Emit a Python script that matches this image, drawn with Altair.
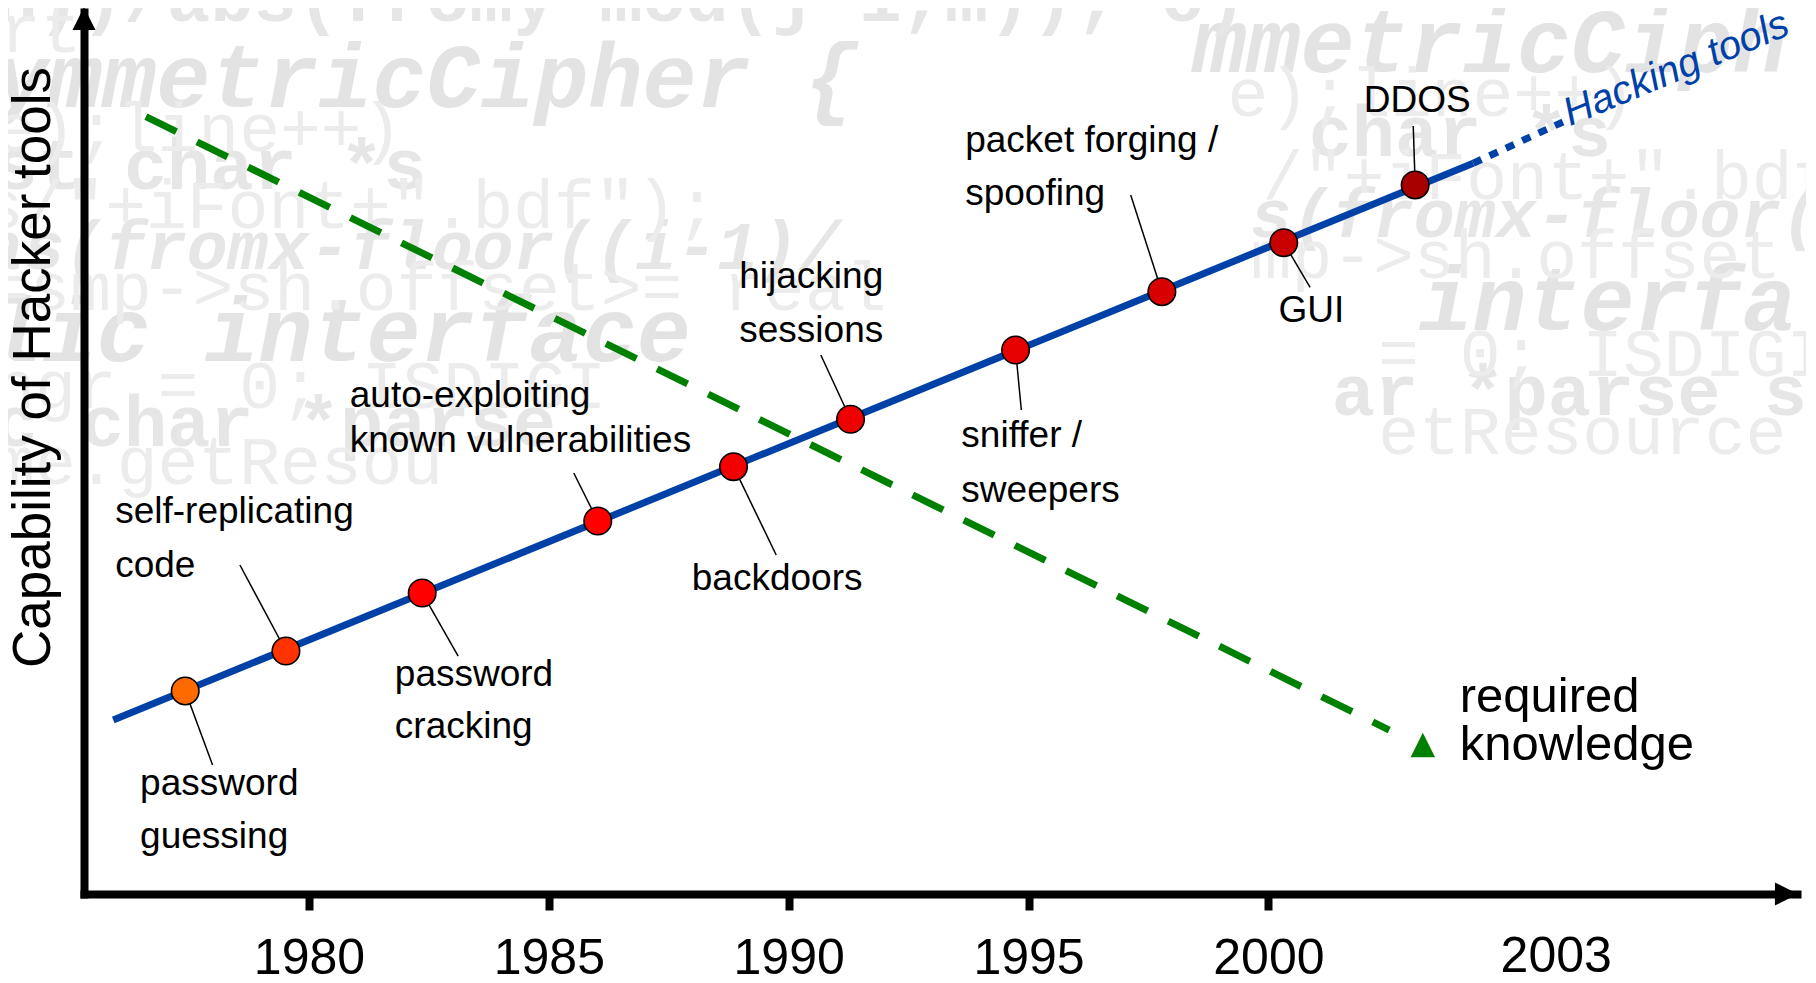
import altair as alt
import pandas as pd

FONT = "Liberation Sans, Arial, Helvetica, sans-serif"
MONO = "Liberation Mono, Courier New, monospace"

# ---------------- data ----------------
tick_years = [1980, 1985, 1990, 1995, 2000]
end_label = ["2003"]
end_label_year = [2006.0]
end_label_cap = [-8.8]

event_names = ["password guessing", "self-replicating code", "password cracking",
               "auto-exploiting known vulnerabilities", "backdoors", "hijacking sessions",
               "sniffer / sweepers", "packet forging / spoofing", "GUI", "DDOS"]
event_years = [1977.42, 1979.52, 1982.36, 1986.02, 1988.85, 1991.29, 1994.73, 1997.78, 2000.32, 2003.06]
event_caps = [23.02, 27.55, 34.13, 42.29, 48.45, 53.82, 61.68, 68.29, 73.84, 80.39]
leader_years = [1977.99, 1978.56, 1983.11, 1985.52, 1989.74, 1990.67, 1994.85, 1997.13, 2000.87, 2003.02]
leader_caps = [14.63, 37.30, 26.98, 47.73, 38.44, 61.11, 54.88, 79.25, 68.79, 87.07]

label_text = ["password", "guessing", "self-replicating", "code", "password", "cracking",
              "auto-exploiting", "known vulnerabilities", "backdoors", "hijacking", "sessions",
              "sniffer /", "sweepers", "packet forging /", "spoofing", "GUI", "DDOS"]
label_years = [1976.48, 1976.48, 1975.96, 1975.96, 1981.79, 1981.79, 1980.85, 1980.85, 1987.98,
               1988.97, 1988.97, 1993.60, 1993.60, 1993.68, 1993.68, 2000.21, 2001.99]
label_caps = [11.22, 5.22, 42.06, 35.94, 23.58, 17.69, 55.25, 50.14, 34.47,
              68.71, 62.62, 50.71, 44.47, 84.16, 78.12, 64.89, 88.70]

tools_years = [1975.92, 2004.27]
tools_caps = [19.73, 82.85]
tools_trend_years = [2004.27, 2006.14]
tools_trend_caps = [82.85, 87.53]
tools_label = ["Hacking tools"]
tools_label_year = [2008.60]
tools_label_cap = [92.29]

knowledge_years = [1976.60, 2002.52]
knowledge_caps = [88.13, 18.59]
knowledge_arrow_year = [2003.22]
knowledge_arrow_cap = [16.89]
knowledge_label = ["required", "knowledge"]
knowledge_label_years = [2003.99, 2003.99]
knowledge_label_caps = [20.67, 15.19]

axis_arrow_years = [1975.31, 2010.80]
axis_arrow_caps = [99.26, 0.0]

# faint source-code watermark in the background
wm_big_text = ["ymmetricCipher {", "mmetricCiph", "lic  interface", "interfa"]
wm_big_years = [1973.44, 1998.42, 1973.32, 2003.13]
wm_big_caps = [89.28, 93.22, 60.40, 63.94]
wm_ital_text = ["as(fromx-floor((i-1)/", "s(fromx-floor("]
wm_ital_years = [1973.20, 1999.63]
wm_ital_caps = [70.90, 74.45]
wm_bold_text = ["n))/abs(fromy  mod(j-1,m));  c)", "st char *s", "char *s", "c char *parse", "ar *parse s"]
wm_bold_years = [1973.44, 1973.44, 2000.84, 1973.44, 2001.32]
wm_bold_caps = [99.00, 79.96, 83.63, 50.81, 54.36]
wm_reg_text = ["rt", "ne);line++)", "e);line++)", "s/\"+iFont+\".bdf\");", "/\"+iFont+\".bdf",
               "=smp->sh.offset>= real", "mp->sh.offset >=", "ngr = 0;  ISDIGI", "= 0; ISDIGIT",
               "me.getResou", "etResource"]
wm_reg_years = [1973.56, 1972.59, 1999.15, 1973.20, 1999.87, 1973.32, 1999.63, 1973.44, 2002.29,
                1973.44, 2002.29]
wm_reg_caps = [95.45, 84.29, 88.23, 75.49, 78.78, 66.17, 69.85, 55.14, 58.69, 46.48, 49.89]

# ---------------- styles ----------------
dot_colors = ["#FF6A00", "#FF3300", "#FF0000", "#FF0000", "#F20000", "#EE0000",
              "#E60000", "#D80000", "#C80000", "#A80000"]
BLUE = "#0041A8"
GREEN = "#008000"

xs = alt.Scale(domain=[1975.31, 2011.02], nice=False, zero=False)
ys = alt.Scale(domain=[0, 100], nice=False, zero=False)
x_axis = alt.Axis(values=tick_years, format="d", title=None, grid=False, zindex=1,
                  domainColor="black", domainWidth=8, domainCap="square",
                  tickColor="black", tickWidth=8, tickSize=16,
                  labelFont=FONT, labelFontSize=50, labelColor="black",
                  labelBaseline="alphabetic", labelPadding=63,
                  labelFlush=False, labelOverlap=False)
y_axis = alt.Axis(title="Capability of Hacker tools", grid=False, ticks=False, labels=False,
                  zindex=1, domainColor="black", domainWidth=8, domainCap="square",
                  titleFont=FONT, titleFontSize=53, titleFontWeight="normal",
                  titleColor="black", titleAngle=270, titleAlign="center",
                  titleBaseline="alphabetic", titleX=-35, titleY=355)


def X(f="year"):
    return alt.X(f"{f}:Q", scale=xs, axis=x_axis)


def Y(f="cap"):
    return alt.Y(f"{f}:Q", scale=ys, axis=y_axis)


def df(years, caps, **extra):
    d = {"year": years, "cap": caps}
    d.update(extra)
    return pd.DataFrame(d)


def wm_layer(text, years, caps, size, weight, style, color):
    return alt.Chart(df(years, caps, text=text)).mark_text(
        align="left", baseline="alphabetic", font=MONO, fontSize=size,
        fontWeight=weight, fontStyle=style, color=color
    ).encode(x=X(), y=Y(), text="text:N")


wm1 = wm_layer(wm_big_text, wm_big_years, wm_big_caps, 90, "bold", "italic", "#E3E3E3")
wm2 = wm_layer(wm_ital_text, wm_ital_years, wm_ital_caps, 68, "bold", "italic", "#E6E6E6")
wm3 = wm_layer(wm_bold_text, wm_bold_years, wm_bold_caps, 72, "bold", "normal", "#E6E6E6")
wm4 = wm_layer(wm_reg_text, wm_reg_years, wm_reg_caps, 68, "normal", "normal", "#ECECEC")

knowledge = alt.Chart(df(knowledge_years, knowledge_caps)).mark_line(
    color=GREEN, strokeWidth=7, strokeDash=[34, 23], strokeCap="butt"
).encode(x=X(), y=Y())
knowledge_arrow = alt.Chart(df(knowledge_arrow_year, knowledge_arrow_cap)).mark_point(
    shape="M0,-1L1,1L-1,1Z", filled=True, color=GREEN, size=600, opacity=1
).encode(x=X(), y=Y())

tools = alt.Chart(df(tools_years, tools_caps)).mark_line(
    color=BLUE, strokeWidth=7, strokeCap="butt"
).encode(x=X(), y=Y())
tools_trend = alt.Chart(df(tools_trend_years, tools_trend_caps)).mark_line(
    color=BLUE, strokeWidth=7, strokeDash=[9, 9], strokeCap="butt"
).encode(x=X(), y=Y())

leaders = alt.Chart(df(event_years, event_caps, year2=leader_years, cap2=leader_caps)).mark_rule(
    color="black", strokeWidth=1.5
).encode(x=X(), y=Y(), x2="year2:Q", y2="cap2:Q")

dots = alt.Chart(df(event_years, event_caps, event=event_names)).mark_circle(
    size=755, opacity=1, stroke="black", strokeWidth=1.6
).encode(x=X(), y=Y(),
         color=alt.Color("event:N", scale=alt.Scale(domain=event_names, range=dot_colors), legend=None))

labels = alt.Chart(df(label_years, label_caps, text=label_text)).mark_text(
    align="left", baseline="alphabetic", font=FONT, fontSize=37, color="black"
).encode(x=X(), y=Y(), text="text:N")

tools_text = alt.Chart(df(tools_label_year, tools_label_cap, text=tools_label)).mark_text(
    align="center", baseline="alphabetic", font=FONT, fontSize=40, fontStyle="italic",
    color=BLUE, angle=337.4
).encode(x=X(), y=Y(), text="text:N")

knowledge_text = alt.Chart(df(knowledge_label_years, knowledge_label_caps, text=knowledge_label)).mark_text(
    align="left", baseline="alphabetic", font=FONT, fontSize=49, color="black"
).encode(x=X(), y=Y(), text="text:N")

end_text = alt.Chart(df(end_label_year, end_label_cap, text=end_label)).mark_text(
    align="center", baseline="alphabetic", font=FONT, fontSize=50, color="black"
).encode(x=X(), y=Y(), text="text:N")

arrow_up = alt.Chart(df(axis_arrow_years[:1], axis_arrow_caps[:1])).mark_point(
    shape="M0,-1L1,1L-1,1Z", filled=True, color="black", size=529, opacity=1
).encode(x=X(), y=Y())
arrow_right = alt.Chart(df(axis_arrow_years[1:], axis_arrow_caps[1:])).mark_point(
    shape="M-1,-1L1,0L-1,1Z", filled=True, color="black", size=529, opacity=1
).encode(x=X(), y=Y())

chart = alt.layer(
    wm1, wm2, wm3, wm4,
    knowledge, knowledge_arrow, tools, tools_trend, leaders, dots,
    labels, tools_text, knowledge_text, end_text, arrow_up, arrow_right
).properties(
    width=1713, height=882,
    padding={"left": 76, "top": 4, "right": 9, "bottom": 81},
    autosize=alt.AutoSizeParams(type="none"),
    background="white"
).configure_view(stroke=None)

chart.save("out.html", embed_options={"renderer": "svg", "actions": False})
